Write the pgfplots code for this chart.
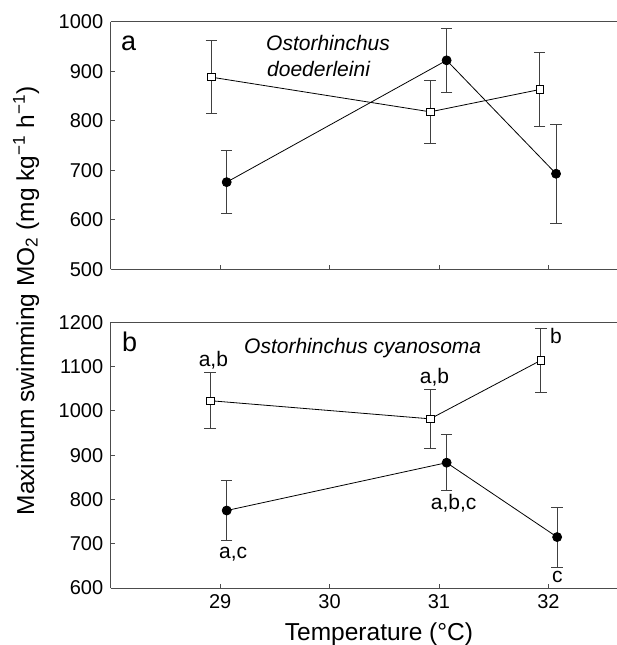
\documentclass[border=0pt]{standalone}
\usepackage{fontspec}
\setmainfont{Liberation Sans}
\usepackage{pgfplots}
\pgfplotsset{compat=1.18}

\pgfplotsset{
  panel/.style={
    scale only axis, width=506.3pt,
    axis lines=left, axis line style={-, draw=black!70, line width=1pt},
    xmin=28, xmax=32.627,
    xtick={29,30,31,32},
    tick align=inside, major tick length=4.5pt,
    tick style={black!70, line width=0.9pt},
    /pgf/number format/assume math mode=true,
    /pgf/number format/1000 sep={},
    tick label style={font=\fontsize{20}{24}\selectfont},
    xticklabel style={yshift=-2.5pt},
    yticklabel style={xshift=-4pt},
    clip=false,
  },
  eb/.style={error bars/.cd, y dir=both, y explicit,
    error bar style={line width=0.9pt, black!75},
    error mark options={rotate=90, line width=0.9pt, mark size=5.8pt, black!75}},
  sq/.style={black, line width=0.8pt, mark=square*,
    mark options={fill=white, mark size=3.7pt, line width=0.8pt}, eb},
  ci/.style={black, line width=0.8pt, mark=*,
    mark options={fill=black, mark size=4.5pt}, eb},
}

\begin{document}
\begin{tikzpicture}
% panel a
\begin{axis}[panel, at={(110.7pt,-269.3pt)}, anchor=south west,
  height=247.6pt, ymin=500, ymax=1000, ytick={500,600,...,1000},
  xticklabels={}]
\addplot[sq] coordinates {
  (28.92,888) +- (0,74)
  (30.92,818) +- (0,64)
  (31.92,863) +- (0,74)
};
\addplot[ci] coordinates {
  (29.06,676) +- (0,64)
  (31.07,922) +- (0,64)
  (32.07,693) +- (0,100)
};
\draw[black!70, line width=1pt] (rel axis cs:0,1) -- (rel axis cs:1,1);
\end{axis}
% panel b
\begin{axis}[panel, at={(110.7pt,-588pt)}, anchor=south west,
  height=265.7pt, ymin=600, ymax=1200, ytick={600,700,...,1200}]
\addplot[sq] coordinates {
  (28.91,1023) +- (0,63)
  (30.92,982) +- (0,67)
  (31.93,1114) +- (0,72)
};
\addplot[ci] coordinates {
  (29.06,775) +- (0,67)
  (31.07,883) +- (0,63)
  (32.08,715) +- (0,68)
};
\draw[black!70, line width=1pt] (rel axis cs:0,1) -- (rel axis cs:1,1);
\end{axis}

\begin{scope}[every node/.style={inner sep=0pt}]
% panel letters
\node[anchor=base west, font=\fontsize{27}{31}\selectfont] at (121pt,-50pt) {a};
\node[anchor=base west, font=\fontsize{27}{31}\selectfont] at (122pt,-351.7pt) {b};
% species names
\node[anchor=base west, font=\fontsize{21}{25}\selectfont\itshape] at (266pt,-50pt) {Ostorhinchus};
\node[anchor=base west, font=\fontsize{21}{25}\selectfont\itshape] at (267pt,-76pt) {doederleini};
\node[anchor=base west, font=\fontsize{21}{25}\selectfont\itshape] at (244pt,-353.3pt) {Ostorhinchus cyanosoma};
% significance letters
\begin{scope}[every node/.append style={font=\fontsize{21}{25}\selectfont}]
\node[anchor=base] at (213.4pt,-366.7pt) {a,b};
\node[anchor=base] at (434.5pt,-383.3pt) {a,b};
\node[anchor=base west] at (550pt,-343.3pt) {b};
\node[anchor=base] at (233.2pt,-558.3pt) {a,c};
\node[anchor=base] at (453.7pt,-509pt) {a,b,c};
\node[anchor=base west] at (552pt,-582.7pt) {c};
\end{scope}
% axis titles
\node[anchor=base, font=\fontsize{24.5}{29}\selectfont] at (379pt,-640pt) {Temperature (°C)};
\node[anchor=base, rotate=90, font=\fontsize{24.5}{29}\selectfont] at (34pt,-301pt)
  {Maximum swimming MO\textsubscript{2} (mg kg\textsuperscript{−1} h\textsuperscript{−1})};
\end{scope}

\pgfresetboundingbox
\useasboundingbox (0pt,0pt) rectangle (617pt,-645pt);
\end{tikzpicture}
\end{document}
